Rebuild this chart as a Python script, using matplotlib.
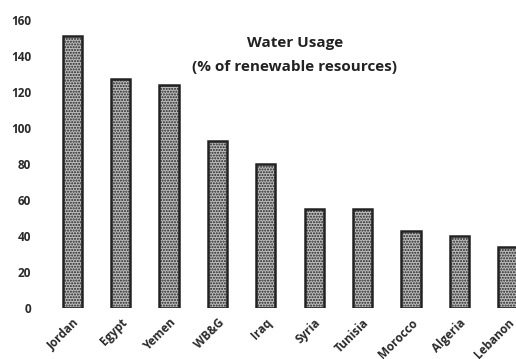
import matplotlib
matplotlib.use("Agg")
import matplotlib.pyplot as plt

countries = ["Jordan", "Egypt", "Yemen", "WB&G", "Iraq", "Syria",
             "Tunisia", "Morocco", "Algeria", "Lebanon"]
usage_pct = [151, 127, 124, 93, 80, 55, 55, 43, 40, 34]
y_ticks = [0, 20, 40, 60, 80, 100, 120, 140, 160]

plt.rcParams["font.family"] = ["Open Sans", "DejaVu Sans"]
plt.rcParams["hatch.color"] = "#4a4a4a"
plt.rcParams["hatch.linewidth"] = 1.0

W, H = 516, 359
fig = plt.figure(figsize=(W / 100, H / 100), dpi=100)
left, right = 48, 516
bottom, top = H - 308, H - 20
ax = fig.add_axes([left / W, bottom / H, (right - left) / W, (top - bottom) / H])

x = list(range(len(countries)))
ax.bar(x, usage_pct, width=0.4, color="#bdbdbd", edgecolor="#222222",
       linewidth=1.8, hatch="......")

ax.set_ylim(0, 160)
ax.set_xlim(-0.5, 9.17)
ax.set_yticks(y_ticks)
ax.set_yticklabels([str(v) for v in y_ticks], fontsize=8.5,
                   fontweight="bold", color="#2a2a2a")
ax.set_xticks(x)
ax.set_xticklabels(countries, rotation=45, ha="right",
                   rotation_mode="anchor", fontsize=8.5,
                   fontweight="bold", color="#2a2a2a")
ax.tick_params(axis="y", length=0, pad=12)
ax.tick_params(axis="x", length=0, pad=6)
for s in ax.spines.values():
    s.set_visible(False)

title_style = dict(ha="center", va="center", fontsize=11,
                   fontweight="bold", color="#222222")
fig.text(295 / W, 1 - 43 / H, "Water Usage", **title_style)
fig.text(295 / W, 1 - 67 / H, "(% of renewable resources)", **title_style)

fig.savefig("out.png", dpi=100, facecolor="white")
